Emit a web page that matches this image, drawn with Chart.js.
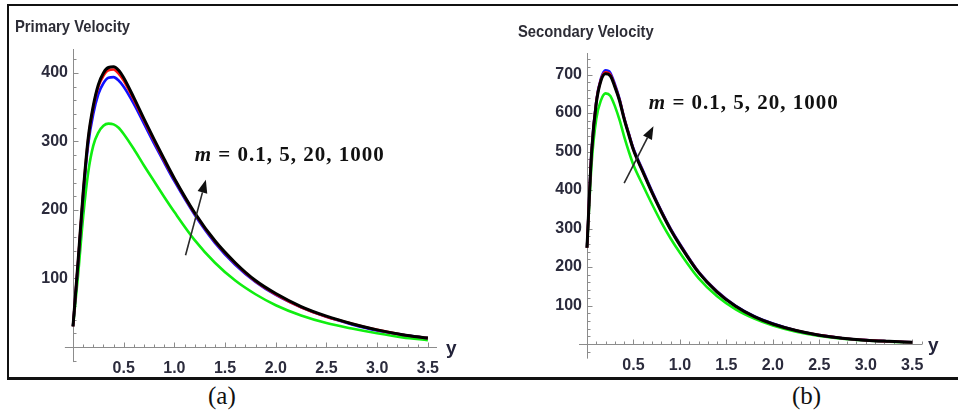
<!DOCTYPE html>
<html>
<head>
<meta charset="utf-8">
<script src="https://cdn.jsdelivr.net/npm/chart.js@4/dist/chart.umd.min.js"></script>
<style>
  body { margin: 0; background: #fff; width: 958px; height: 411px; overflow: hidden; position: relative; }
  #frame { position: absolute; left: 7px; top: 4px; width: 960px; height: 371px;
           border-top: 2px solid #111; border-left: 2px solid #111; border-bottom: 3px solid #111; }
  canvas { position: absolute; top: 0; }
  .title { position: absolute; font-family: 'Liberation Sans', sans-serif; font-weight: bold; font-size: 17px;
           color: #2d2d36; white-space: nowrap; transform: scaleX(0.87); transform-origin: left center; }
  .caption { position: absolute; top: 382px; font-family: 'Liberation Serif', serif; font-size: 25px; color: #111; }
</style>
</head>
<body>
<div id="frame"></div>
<canvas id="plotA" width="480" height="380" style="left:0"></canvas>
<canvas id="plotB" width="478" height="380" style="left:480px"></canvas>
<div class="title" style="left:15px;top:17px">Primary Velocity</div>
<div class="title" style="left:518px;top:22px">Secondary Velocity</div>
<div class="caption" style="left:208px">(a)</div>
<div class="caption" style="left:792px">(b)</div>
<script>
// distance from the plate (horizontal variable "y")
const yGrid = [0, 0.05, 0.1, 0.15, 0.2, 0.25, 0.3, 0.35, 0.4, 0.45, 0.5, 0.6, 0.7, 0.8, 0.9,
               1.0, 1.2, 1.4, 1.6, 1.8, 2.0, 2.25, 2.5, 2.75, 3.0, 3.25, 3.5];
const xTickLabels = [0.5, 1.0, 1.5, 2.0, 2.5, 3.0, 3.5];
const mLabel = 'm = 0.1, 5, 20, 1000';

// primary velocity for m = 0.1, 5, 20, 1000
const primaryM01  = [30, 105, 190, 255, 294, 313, 323, 326, 325, 320, 311, 289, 265, 242, 219,
                     197, 156, 123, 97, 77, 61, 46, 35, 27, 20, 14, 10];
const primaryM5   = [30, 122, 220, 296, 340, 369, 385, 393, 394, 389, 380, 355, 326, 297, 269,
                     242, 193, 152, 120, 95, 76, 58, 44, 33, 24, 18, 13];
const primaryM20  = [30, 124, 224, 303, 350, 380, 396, 404, 405, 399, 389, 361, 331, 301, 272,
                     245, 195, 154, 122, 96, 77, 58, 44, 34, 25, 18, 13];
const primaryM1000 = [30, 125, 225, 305, 352, 383, 400, 408, 409, 404, 393, 364, 333, 303, 274,
                      246, 196, 155, 123, 97, 78, 59, 45, 34, 25, 18, 13];
const primaryTicks = [100, 200, 300, 400];

// secondary velocity for m = 0.1, 5, 20, 1000
const secondaryM01  = [250, 470, 585, 633, 651, 645, 618, 582, 539, 500, 465, 413, 363, 316, 274,
                       237, 171, 124, 90, 66, 48, 32, 21, 14, 9, 6, 4];
const secondaryM5   = [250, 504, 631, 690, 711, 705, 675, 637, 588, 547, 508, 452, 397, 346, 300,
                       260, 188, 137, 99, 72, 53, 35, 23, 15, 10, 7, 4.5];
const secondaryM20  = [250, 502, 629, 687, 706, 700, 671, 634, 586, 545, 505, 449, 394, 344, 298,
                       258, 187, 136, 98, 71, 52, 35, 23, 15, 10, 7, 4.5];
const secondaryM1000 = [250, 500, 626, 684, 702, 697, 668, 632, 584, 543, 504, 448, 393, 343, 297,
                        257, 186, 135, 98, 71, 52, 35, 23, 15, 10, 7, 4.5];
const secondaryTicks = [100, 200, 300, 400, 500, 600, 700];

const curveColors = ['#10ee10', '#1010ff', '#ff1010', '#000000'];
const labelFont = { family: "'Liberation Sans', sans-serif", size: 16, weight: 'bold' };

function toPoints(vals) {
    return yGrid.map((y, i) => ({x: y, y: vals[i]}));
}

// Mathematica-style axes: lines through the origin with small inward ticks
const axisMarks = {
    id: 'axisMarks',
    beforeDatasetsDraw(chart, args, o) {
        const ctx = chart.ctx;
        const xs = chart.scales.x, ys = chart.scales.y;
        const ax = Math.round(xs.getPixelForValue(0)) + 0.5;
        const ay = Math.round(ys.getPixelForValue(0)) + 0.5;
        ctx.save();
        ctx.strokeStyle = '#8c8c8c';
        ctx.lineWidth = 1;
        ctx.beginPath();
        ctx.moveTo(xs.getPixelForValue(o.xFrom), ay);
        ctx.lineTo(xs.getPixelForValue(o.xTo), ay);
        ctx.moveTo(ax, ys.getPixelForValue(o.yFrom));
        ctx.lineTo(ax, ys.getPixelForValue(o.yTo));
        for (let i = 1; i * 0.1 <= o.xTo + 1e-9; i++) {
            const px = Math.round(xs.getPixelForValue(i * 0.1)) + 0.5;
            ctx.moveTo(px, ay);
            ctx.lineTo(px, ay - (i % 5 === 0 ? 5 : 3));
        }
        for (let v = o.yStep * Math.ceil(o.yFrom / o.yStep); v <= o.yTo; v += o.yStep) {
            if (v === 0) continue;
            const py = Math.round(ys.getPixelForValue(v)) + 0.5;
            ctx.moveTo(ax, py);
            ctx.lineTo(ax + (v % 100 === 0 ? 5 : 3), py);
        }
        ctx.stroke();
        ctx.restore();
    },
    afterDatasetsDraw(chart, args, o) {
        const ctx = chart.ctx;
        const xs = chart.scales.x, ys = chart.scales.y;
        ctx.save();
        // axis name
        ctx.fillStyle = '#23233a';
        ctx.font = "bold 19px 'Liberation Sans', sans-serif";
        ctx.textBaseline = 'middle';
        ctx.fillText('y', xs.getPixelForValue(o.xTo) + o.yNameDx, ys.getPixelForValue(0) + 2);
        // arrow across the curves
        const [x0, y0, x1, y1] = o.arrow;
        const p0 = [xs.getPixelForValue(x0), ys.getPixelForValue(y0)];
        const p1 = [xs.getPixelForValue(x1), ys.getPixelForValue(y1)];
        const ang = Math.atan2(p1[1] - p0[1], p1[0] - p0[0]);
        const headLen = 13, headW = 5;
        const bx = p1[0] - headLen * Math.cos(ang), by = p1[1] - headLen * Math.sin(ang);
        ctx.strokeStyle = '#2a2a2a';
        ctx.fillStyle = '#111';
        ctx.lineWidth = 1.6;
        ctx.beginPath();
        ctx.moveTo(p0[0], p0[1]);
        ctx.lineTo(bx, by);
        ctx.stroke();
        ctx.beginPath();
        ctx.moveTo(p1[0], p1[1]);
        ctx.lineTo(bx + headW * Math.sin(ang), by - headW * Math.cos(ang));
        ctx.lineTo(bx - headW * Math.sin(ang), by + headW * Math.cos(ang));
        ctx.closePath();
        ctx.fill();
        // parameter label
        const lx = xs.getPixelForValue(o.label[0]), ly = ys.getPixelForValue(o.label[1]);
        ctx.fillStyle = '#111';
        ctx.letterSpacing = '1px';
        ctx.font = "italic bold 21px 'Liberation Serif', serif";
        ctx.fillText(mLabel.slice(0, 1), lx, ly);
        const mw = ctx.measureText(mLabel.slice(0, 1)).width;
        ctx.font = "bold 21px 'Liberation Serif', serif";
        ctx.fillText(mLabel.slice(1), lx + mw, ly);
        ctx.restore();
    }
};

function makeChart(id, series, yTicks, sc, marks) {
    return new Chart(document.getElementById(id).getContext('2d'), {
        type: 'line',
        data: {
            datasets: series.map((vals, i) => ({
                data: toPoints(vals),
                borderColor: curveColors[i],
                borderWidth: i === 3 ? 3 : 2.6,
                pointRadius: 0,
                cubicInterpolationMode: 'monotone',
                clip: 6,
                order: series.length - i   // larger m drawn on top
            }))
        },
        options: {
            responsive: false,
            animation: false,
            events: [],
            layout: { padding: { left: 0, right: sc.padRight, top: sc.padTop, bottom: 0 } },
            plugins: { legend: { display: false }, tooltip: { enabled: false }, axisMarks: marks },
            scales: {
                x: {
                    type: 'linear', position: 'bottom', min: 0, max: sc.xMax,
                    grid: { display: false, drawTicks: false }, border: { display: false },
                    afterFit: s => { s.height = sc.bottomH; },
                    afterBuildTicks: s => { s.ticks = xTickLabels.map(v => ({value: v})); },
                    ticks: { color: '#2b2b3c', font: labelFont, padding: 12, maxRotation: 0,
                             callback: v => v.toFixed(1) }
                },
                y: {
                    type: 'linear', position: 'left', min: 0, max: sc.yMax,
                    grid: { display: false, drawTicks: false }, border: { display: false },
                    afterFit: s => { s.width = sc.leftW; },
                    afterBuildTicks: s => { s.ticks = yTicks.map(v => ({value: v})); },
                    ticks: { color: '#2b2b3c', font: labelFont, padding: 5 }
                }
            }
        },
        plugins: [axisMarks]
    });
}

makeChart('plotA', [primaryM01, primaryM5, primaryM20, primaryM1000], primaryTicks,
    { leftW: 73, bottomH: 33, padTop: 49, padRight: 43, xMax: 3.59, yMax: 435 },
    { xFrom: -0.08, xTo: 3.59, yFrom: -22, yTo: 435, yStep: 20, yNameDx: 9,
      arrow: [1.11, 134, 1.31, 244], label: [1.2, 279] });

makeChart('plotB', [secondaryM01, secondaryM5, secondaryM20, secondaryM1000], secondaryTicks,
    { leftW: 107, bottomH: 36, padTop: 53, padRight: 36, xMax: 3.605, yMax: 756 },
    { xFrom: -0.086, xTo: 3.605, yFrom: -38, yTo: 756, yStep: 20, yNameDx: 6,
      arrow: [0.40, 418, 0.715, 566], label: [0.665, 624] });
</script>
</body>
</html>
